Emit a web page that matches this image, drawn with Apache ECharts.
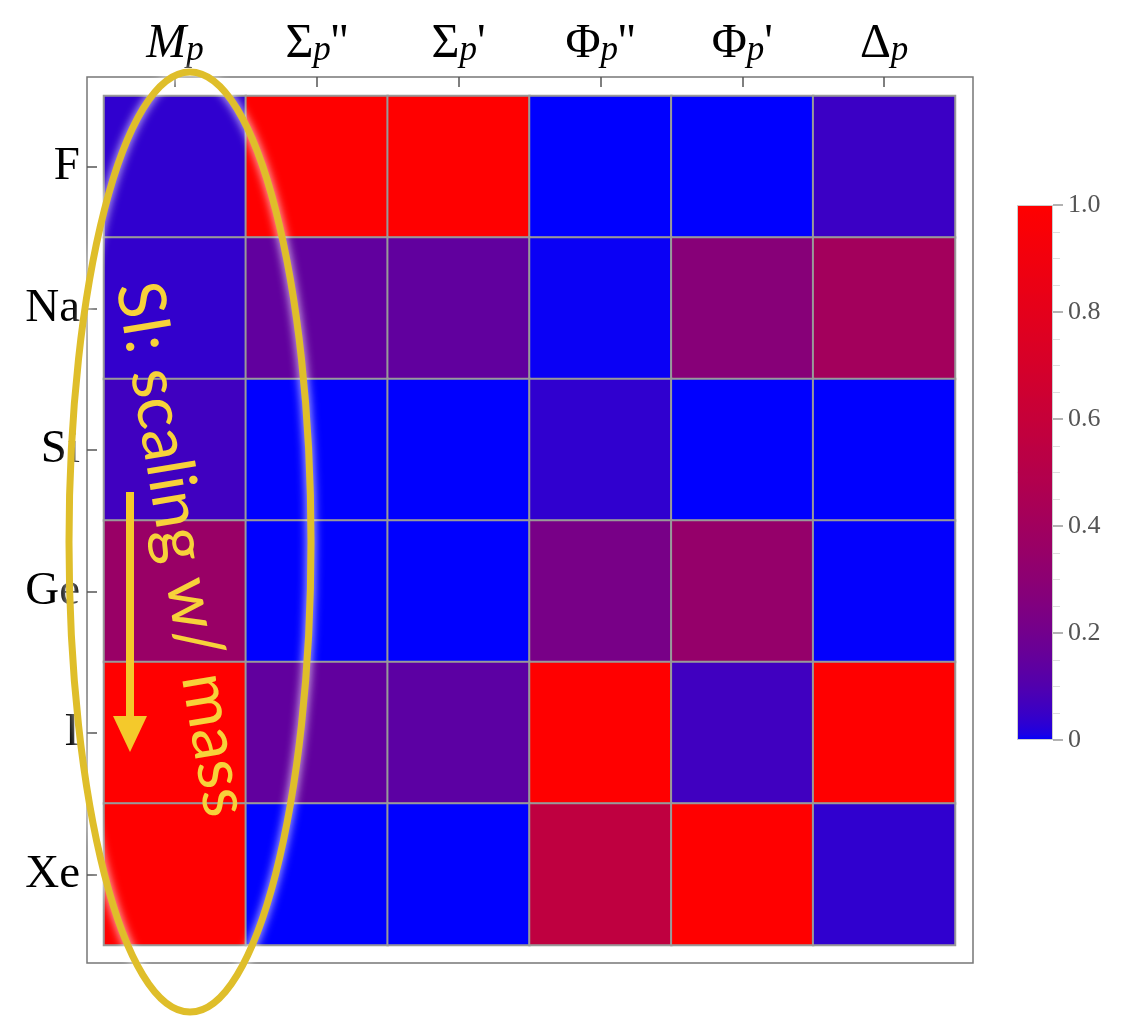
<!DOCTYPE html>
<html>
<head>
<meta charset="utf-8">
<script src="https://cdn.jsdelivr.net/npm/echarts@6/dist/echarts.min.js"></script>
<style>
  html, body { margin: 0; padding: 0; background: #fff; }
  #chart { width: 1126px; height: 1019px; }
</style>
</head>
<body>
<div id="chart"></div>
<script>
// operators (columns) and targets (rows)
const columns = ['M_p', "Σ_p''", "Σ_p'", "Φ_p''", "Φ_p'", 'Δ_p'];
const targets = ['F', 'Na', 'Si', 'Ge', 'I', 'Xe'];
const rowF  = [0.036, 1.00, 1.00, 0.00, 0.00, 0.053];
const rowNa = [0.040, 0.144, 0.144, 0.004, 0.28, 0.41];
const rowSi = [0.063, 0.00, 0.00, 0.036, 0.00, 0.00];
const rowGe = [0.36, 0.00, 0.00, 0.22, 0.34, 0.001];
const rowI  = [1.00, 0.144, 0.13, 1.00, 0.063, 1.00];
const rowXe = [1.00, 0.00, 0.00, 0.56, 1.00, 0.036];
const rows = [rowF, rowNa, rowSi, rowGe, rowI, rowXe];
const barTicks = [0, 0.2, 0.4, 0.6, 0.8, 1.0];

const cells = [];
rows.forEach((row, y) => row.forEach((v, x) => cells.push([x, y, v])));

// blue -> red colour scale, brightening fast near 0 (sqrt-like)
const scale = [];
for (let i = 0; i <= 100; i++) {
  const t = Math.sqrt(i / 100);
  scale.push('rgb(' + Math.round(255 * t) + ',0,' + Math.round(255 * (1 - t)) + ')');
}

const serif = 'Liberation Serif';
const gold = '#DFBE2A';

// "M_p" -> M with italic subscript p
function colLabel(name) {
  const parts = name.split('_p');
  const head = parts[0] === 'M' ? '{it|M}' : '{up|' + parts[0] + '}';
  return head + '{sub|p}' + (parts[1] ? '{up|' + parts[1] + '}' : '');
}

const tickStyle = { color: '#555', width: 1.5 };

const chart = echarts.init(document.getElementById('chart'));
chart.setOption({
  backgroundColor: '#fff',
  animation: false,
  grid: [
    { left: 104, top: 96, width: 851, height: 849 },
    { left: 1017, top: 205, width: 36, height: 535 },
    { left: 87, top: 77, width: 886, height: 886, show: true, borderColor: '#777', borderWidth: 1.5, backgroundColor: 'transparent' }
  ],
  xAxis: [
    {
      type: 'category', gridIndex: 0, data: columns, position: 'top', offset: 19,
      axisLine: { show: false },
      axisTick: { show: true, inside: true, length: 10, alignWithLabel: true, lineStyle: tickStyle },
      axisLabel: {
        margin: 9,
        formatter: colLabel,
        rich: {
          up: { fontFamily: serif, fontSize: 48, color: '#000', verticalAlign: 'top', lineHeight: 48 },
          it: { fontFamily: serif, fontSize: 48, fontStyle: 'italic', color: '#000', verticalAlign: 'top', lineHeight: 48 },
          sub: { fontFamily: serif, fontSize: 35, fontStyle: 'italic', color: '#000', verticalAlign: 'bottom', lineHeight: 35, padding: [15, 0, 0, 0] }
        }
      },
      splitLine: { show: false }
    },
    { type: 'category', gridIndex: 1, data: ['scale'], show: false },
    { type: 'value', gridIndex: 2, show: false }
  ],
  yAxis: [
    {
      type: 'category', gridIndex: 0, data: targets, inverse: true, position: 'left', offset: 17,
      axisLine: { show: false },
      axisTick: { show: true, inside: true, length: 10, alignWithLabel: true, lineStyle: tickStyle },
      axisLabel: { margin: 7, fontFamily: serif, fontSize: 47, color: '#000' },
      splitLine: { show: false }
    },
    {
      type: 'value', gridIndex: 1, min: 0, max: 1, interval: 0.2, position: 'right',
      axisLine: { show: false },
      axisTick: { show: true, length: 10, lineStyle: { color: '#999', width: 1.5 } },
      minorTick: { show: true, splitNumber: 4, length: 7, lineStyle: { color: '#ddd' } },
      splitLine: { show: false },
      axisLabel: {
        margin: 15, fontFamily: serif, fontSize: 26, color: '#555',
        formatter: v => (v === 0 ? '0' : v.toFixed(1))
      }
    },
    { type: 'value', gridIndex: 2, show: false }
  ],
  visualMap: {
    show: false, seriesIndex: 0, min: 0, max: 1,
    inRange: { color: scale }
  },
  series: [
    {
      type: 'heatmap', xAxisIndex: 0, yAxisIndex: 0, data: cells,
      itemStyle: { borderColor: '#999', borderWidth: 2 },
      emphasis: { disabled: true }
    },
    {
      type: 'bar', xAxisIndex: 1, yAxisIndex: 1, data: [barTicks[barTicks.length - 1]],
      barWidth: '100%', silent: true,
      itemStyle: {
        color: new echarts.graphic.LinearGradient(0, 1, 0, 0,
          scale.map((c, i) => ({ offset: i / 100, color: c }))),
        borderColor: '#ccc', borderWidth: 1
      }
    }
  ],
  graphic: [
    {
      type: 'ellipse', z: 100,
      shape: { cx: 190, cy: 542, rx: 121, ry: 470 },
      style: { fill: 'none', stroke: gold, lineWidth: 7, shadowBlur: 10, shadowColor: 'rgba(255,255,255,0.9)' }
    },
    {
      type: 'line', z: 100,
      shape: { x1: 130, y1: 492, x2: 130, y2: 722 },
      style: { stroke: '#F4C92B', lineWidth: 8 }
    },
    {
      type: 'polygon', z: 100,
      shape: { points: [[113, 716], [147, 716], [130, 752]] },
      style: { fill: '#F4C92B' }
    },
    {
      type: 'text', z: 101, x: 182, y: 549, rotation: -80.5 * Math.PI / 180,
      style: {
        text: 'SI: scaling w/ mass', fill: '#F7D23A',
        font: '66px Lato', align: 'center', verticalAlign: 'middle',
        textAlign: 'center', textVerticalAlign: 'middle',
        shadowBlur: 14, shadowColor: 'rgba(255,255,255,0.95)'
      }
    }
  ]
});
</script>
</body>
</html>
